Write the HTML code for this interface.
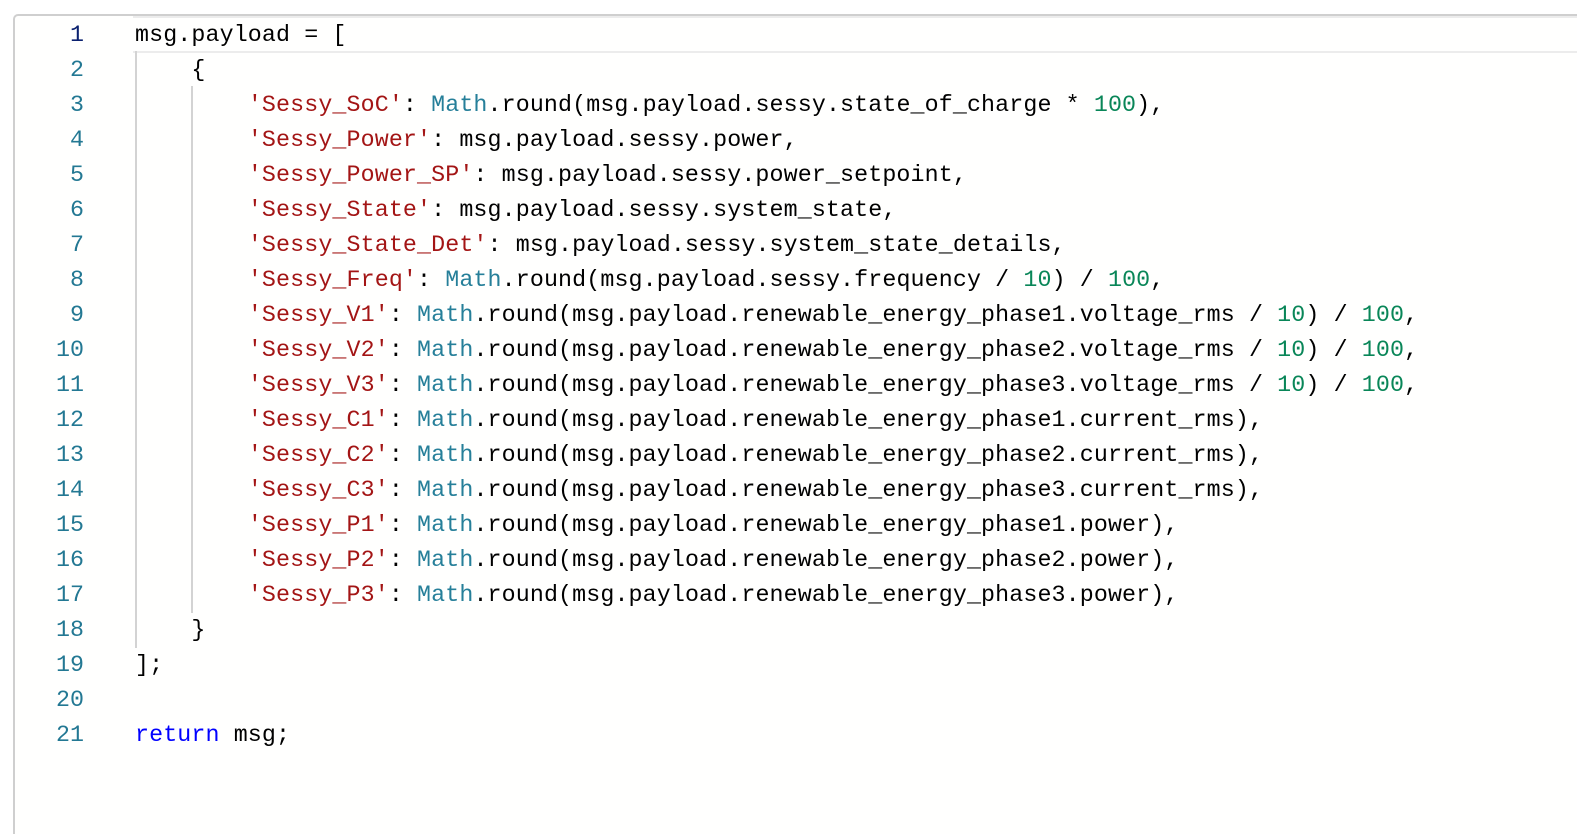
<!DOCTYPE html>
<html><head><meta charset="utf-8"><style>
html,body{margin:0;padding:0;background:#fff;width:1577px;height:806px;overflow:hidden;}
.ed{position:absolute;left:13px;top:14px;width:1600px;height:820px;border-left:2px solid #cfcfcf;border-top:2px solid #cfcfcf;border-top-left-radius:5px;background:#fffffe;box-sizing:border-box;}
.active{position:absolute;left:133px;top:16px;width:1460px;height:33px;border-top:2px solid #ececec;border-bottom:2px solid #ececec;box-sizing:content-box;}
.ln,.code{position:absolute;font-family:"Liberation Mono",monospace;font-size:23.3px;line-height:35px;white-space:pre;height:35px;margin-top:2px;}
.ln{right:1493px;text-align:right;color:#237893;}
.ln.cur{color:#0b216f;}
.code{left:135px;color:#000;letter-spacing:0.12px;}
.s{color:#a31515}.m{color:#267f99}.n{color:#098658}.k{color:#0000ff}
.g{position:absolute;width:2px;background:#d3d3d3;}
</style></head><body>
<div class="ed"></div>
<div class="active"></div>
<div class="g" style="left:135px;top:51px;height:597px;"></div>
<div class="g" style="left:191px;top:86px;height:527px;"></div>

<div class="ln cur" style="top:16px">1</div>
<div class="ln" style="top:51px">2</div>
<div class="ln" style="top:86px">3</div>
<div class="ln" style="top:121px">4</div>
<div class="ln" style="top:156px">5</div>
<div class="ln" style="top:191px">6</div>
<div class="ln" style="top:226px">7</div>
<div class="ln" style="top:261px">8</div>
<div class="ln" style="top:296px">9</div>
<div class="ln" style="top:331px">10</div>
<div class="ln" style="top:366px">11</div>
<div class="ln" style="top:401px">12</div>
<div class="ln" style="top:436px">13</div>
<div class="ln" style="top:471px">14</div>
<div class="ln" style="top:506px">15</div>
<div class="ln" style="top:541px">16</div>
<div class="ln" style="top:576px">17</div>
<div class="ln" style="top:611px">18</div>
<div class="ln" style="top:646px">19</div>
<div class="ln" style="top:681px">20</div>
<div class="ln" style="top:716px">21</div>

<div class="code" style="top:16px">msg.payload = [</div>
<div class="code" style="top:51px">    {</div>
<div class="code" style="top:86px">        <span class="s">'Sessy_SoC'</span>: <span class="m">Math</span>.round(msg.payload.sessy.state_of_charge * <span class="n">100</span>),</div>
<div class="code" style="top:121px">        <span class="s">'Sessy_Power'</span>: msg.payload.sessy.power,</div>
<div class="code" style="top:156px">        <span class="s">'Sessy_Power_SP'</span>: msg.payload.sessy.power_setpoint,</div>
<div class="code" style="top:191px">        <span class="s">'Sessy_State'</span>: msg.payload.sessy.system_state,</div>
<div class="code" style="top:226px">        <span class="s">'Sessy_State_Det'</span>: msg.payload.sessy.system_state_details,</div>
<div class="code" style="top:261px">        <span class="s">'Sessy_Freq'</span>: <span class="m">Math</span>.round(msg.payload.sessy.frequency / <span class="n">10</span>) / <span class="n">100</span>,</div>
<div class="code" style="top:296px">        <span class="s">'Sessy_V1'</span>: <span class="m">Math</span>.round(msg.payload.renewable_energy_phase1.voltage_rms / <span class="n">10</span>) / <span class="n">100</span>,</div>
<div class="code" style="top:331px">        <span class="s">'Sessy_V2'</span>: <span class="m">Math</span>.round(msg.payload.renewable_energy_phase2.voltage_rms / <span class="n">10</span>) / <span class="n">100</span>,</div>
<div class="code" style="top:366px">        <span class="s">'Sessy_V3'</span>: <span class="m">Math</span>.round(msg.payload.renewable_energy_phase3.voltage_rms / <span class="n">10</span>) / <span class="n">100</span>,</div>
<div class="code" style="top:401px">        <span class="s">'Sessy_C1'</span>: <span class="m">Math</span>.round(msg.payload.renewable_energy_phase1.current_rms),</div>
<div class="code" style="top:436px">        <span class="s">'Sessy_C2'</span>: <span class="m">Math</span>.round(msg.payload.renewable_energy_phase2.current_rms),</div>
<div class="code" style="top:471px">        <span class="s">'Sessy_C3'</span>: <span class="m">Math</span>.round(msg.payload.renewable_energy_phase3.current_rms),</div>
<div class="code" style="top:506px">        <span class="s">'Sessy_P1'</span>: <span class="m">Math</span>.round(msg.payload.renewable_energy_phase1.power),</div>
<div class="code" style="top:541px">        <span class="s">'Sessy_P2'</span>: <span class="m">Math</span>.round(msg.payload.renewable_energy_phase2.power),</div>
<div class="code" style="top:576px">        <span class="s">'Sessy_P3'</span>: <span class="m">Math</span>.round(msg.payload.renewable_energy_phase3.power),</div>
<div class="code" style="top:611px">    }</div>
<div class="code" style="top:646px">];</div>
<div class="code" style="top:716px"><span class="k">return</span> msg;</div>
</body></html>
